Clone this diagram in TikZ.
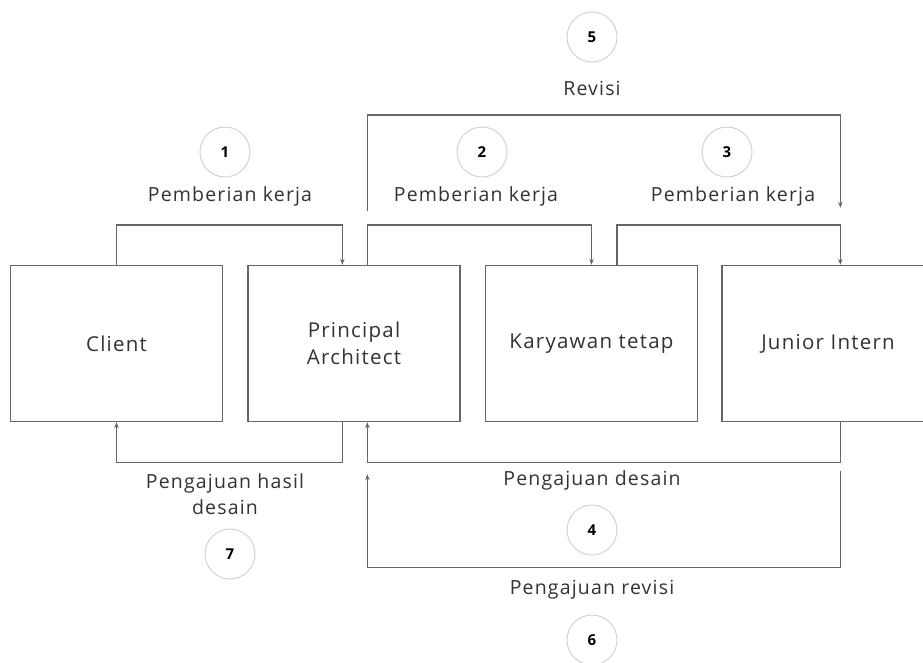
\documentclass[tikz,border=0pt]{standalone}
\usepackage{fontspec}
\setmainfont{Open Sans}
\newfontfamily\spaced[LetterSpace=6]{Open Sans}
\usetikzlibrary{arrows.meta,calc}
\definecolor{ln}{HTML}{666666}
\definecolor{tx}{HTML}{333333}
\definecolor{cl}{HTML}{CFCFCF}
\begin{document}
\begin{tikzpicture}[x=1pt,y=-1pt,
  box/.style={draw=ln, line width=1.3pt, minimum width=212pt, minimum height=156pt, inner sep=0pt, text=tx, font=\spaced\fontsize{20.5}{27}\selectfont, align=center},
  conn/.style={draw=ln, line width=1.3pt},
  arr/.style={conn, -{Stealth[length=6pt,width=4.5pt]}},
  num/.style={circle, draw=cl, line width=0.9pt, minimum size=50pt, inner sep=0pt, text=black, font=\bfseries\fontsize{15}{17}\selectfont},
  lab/.style={text=tx, font=\spaced\fontsize{19.5}{26}\selectfont, align=center, inner sep=0pt}]
\clip (0,0) rectangle (923,662);
\fill[white] (0,0) rectangle (923,662);
% boxes
\node[box] (client) at (116.5,343.5) {Client};
\node[box] (pa) at (354,343.5) {Principal\\Architect};
\node[box] (kt) at (591.5,343.5) {Karyawan tetap};
\node[box] (ji) at (828,343.5) {Junior Intern};
% free-end coordinates
\coordinate (r5s) at ($(pa.north west)+(120,-54)$);
\coordinate (r5e) at ($(ji.north west)+(119,-57)$);
\coordinate (r6s) at ($(ji.south west)+(119,48.5)$);
\coordinate (r6e) at ($(pa.south west)+(120,52)$);
% top connectors
\draw[arr] (client.north) -- ++(0,-40) -| ($(pa.north west)+(95,0)$);
\draw[arr] ($(pa.north west)+(120,0)$) -- ++(0,-40) -| (kt.north);
\draw[arr] ($(kt.north west)+(132,0)$) -- ++(0,-40) -| ($(ji.north west)+(119,0)$);
\draw[arr] (r5s) -- ++(0,-96) -| (r5e);
% bottom connectors
\draw[arr] ($(pa.south west)+(95,0)$) -- ++(0,40) -| (client.south);
\draw[arr] ($(ji.south west)+(119,0)$) -- ++(0,40) -| ($(pa.south west)+(120,0)$);
\draw[arr] (r6s) -- ++(0,97) -| (r6e);
% labels
\node[lab] (l1) at (230,196) {Pemberian kerja};
\node[lab] (l2) at (476,196) {Pemberian kerja};
\node[lab] (l3) at (733,196) {Pemberian kerja};
\node[lab] (l5) at (592,88) {Revisi};
\node[lab] (l7) at (225,494) {Pengajuan hasil\\desain};
\node[lab] (l4) at (592,480) {Pengajuan desain};
\node[lab] (l6) at (592,590) {Pengajuan revisi};
% numbers
\node[num] (c1) at (225,152) {1};
\node[num] (c2) at (482,152) {2};
\node[num] (c3) at (727,152) {3};
\node[num] (c5) at (592,37) {5};
\node[num] (c4) at (592,530) {4};
\node[num] (c6) at (592,640) {6};
\node[num] (c7) at (230,554) {7};
\end{tikzpicture}
\end{document}
